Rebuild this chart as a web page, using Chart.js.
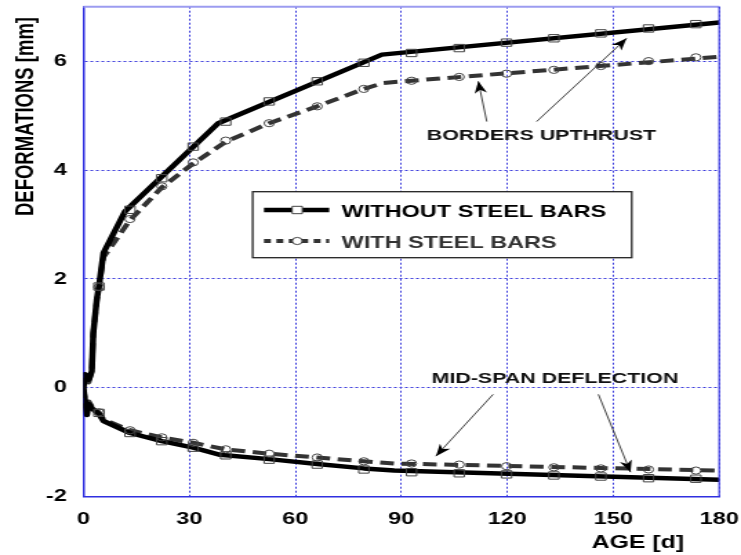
<!DOCTYPE html>
<html>
<head>
<meta charset="utf-8">
<script src="https://cdn.jsdelivr.net/npm/chart.js@4.4.1/dist/chart.umd.min.js"></script>
<style>
  html, body { margin: 0; padding: 0; background: #fff; }
  /* the original figure is stretched sideways, so the canvas is drawn narrow and widened by css */
  #chart { display: block; width: 741px !important; height: 555px !important; }
</style>
</head>
<body>
<canvas id="chart" width="537" height="555" style="width:741px;height:555px"></canvas>
<script>
// ages (days) where the markers sit
const markAge = [4.4, 13.2, 22.2, 31.1, 40.3, 52.6, 66.2, 79.4, 92.9, 106.4, 119.8, 133.2, 146.5, 160.0, 173.4];

// borders upthrust
const upNoSteelAge = [0, 0.5, 1.5, 2.4, 2.8, 3.8, 4.4, 5.7, 11.8, 38.2, 84.5, 180];
const upNoSteel    = [0, 0.25, 0.15, 0.3, 1.0, 1.62, 1.86, 2.48, 3.24, 4.86, 6.12, 6.71];
const upNoSteelMarks = [1.86, 3.27, 3.85, 4.43, 4.89, 5.26, 5.63, 5.97, 6.15, 6.24, 6.34, 6.42, 6.51, 6.60, 6.68];

const upSteelAge = [0, 0.5, 1.5, 2.4, 2.8, 3.8, 4.4, 5.7, 13.2, 22.2, 31.1, 40.3, 52.6, 66.2, 79.4, 85, 180];
const upSteel    = [0, 0.2, 0.1, 0.3, 1.0, 1.6, 1.85, 2.4, 3.08, 3.68, 4.12, 4.52, 4.86, 5.17, 5.49, 5.6, 6.08];
const upSteelMarks = [1.85, 3.10, 3.70, 4.14, 4.54, 4.86, 5.17, 5.49, 5.64, 5.71, 5.77, 5.84, 5.91, 6.00, 6.07];

// mid-span deflection
const lowNoSteelAge = [0, 1, 1.5, 2.5, 4.4, 5.7, 13.2, 22.2, 31.1, 38.7, 52.6, 66.2, 79.4, 88, 180];
const lowNoSteel    = [0, -0.5, -0.3, -0.38, -0.48, -0.61, -0.83, -0.98, -1.10, -1.23, -1.31, -1.40, -1.48, -1.52, -1.69];
const lowNoSteelMarks = [-0.46, -0.83, -0.98, -1.10, -1.24, -1.32, -1.41, -1.50, -1.55, -1.57, -1.59, -1.61, -1.63, -1.66, -1.67];

const lowSteelAge = [0, 1, 1.5, 2.5, 4.4, 5.7, 13.2, 22.2, 31.1, 40.3, 52.6, 66.2, 79.4, 88, 180];
const lowSteel    = [0, -0.45, -0.25, -0.35, -0.45, -0.58, -0.78, -0.91, -1.01, -1.13, -1.21, -1.28, -1.35, -1.39, -1.52];
const lowSteelMarks = [-0.45, -0.78, -0.91, -1.01, -1.13, -1.21, -1.28, -1.35, -1.39, -1.41, -1.44, -1.46, -1.48, -1.50, -1.52];

const xTicks = [0, 30, 60, 90, 120, 150, 180];
const yTicks = [-2, 0, 2, 4, 6];
const seriesNames = ['WITHOUT STEEL BARS', 'WITH STEEL BARS'];
const xTitle = 'AGE [d]';
const yTitle = 'DEFORMATIONS [mm]';

// annotation texts and arrows, in data units [age, mm]
const notes = [
  {text: 'BORDERS UPTHRUST', at: [129.7, 4.556],
   arrows: [[114.2, 4.89, 111.8, 5.63], [128.3, 4.89, 153.8, 6.42]]},
  {text: 'MID-SPAN DEFLECTION', at: [133.5, 0.092],
   arrows: [[116.0, -0.12, 99.8, -1.255], [145.8, -0.12, 154.9, -1.55]]}
];

const FONT = '"Liberation Sans", Arial, sans-serif';
const SOLID = '#000000';
const DASHED = '#333333';
const DASH = [10, 5.5];
const GRID = '#3b3bdc';

function pts(xs, ys) {
  return xs.map((x, i) => ({x: x, y: ys[i]}));
}

function lineSet(label, xs, ys, color, dash, width, order) {
  return {
    label: label, data: pts(xs, ys), showLine: true,
    borderColor: color, borderWidth: width, borderDash: dash,
    borderJoinStyle: 'round', pointRadius: 0, pointHoverRadius: 0,
    tension: 0, order: order
  };
}

function markSet(label, ys, style, radius, order) {
  return {
    label: label, data: pts(markAge, ys), showLine: false,
    pointStyle: style, pointRadius: radius, pointHoverRadius: radius,
    pointBorderColor: '#444', pointBorderWidth: 1,
    pointBackgroundColor: 'rgba(255,255,255,0)', order: order
  };
}

function drawArrow(ctx, x1, y1, x2, y2) {
  ctx.save();
  ctx.strokeStyle = '#111';
  ctx.fillStyle = '#000';
  ctx.lineWidth = 0.8;
  ctx.beginPath();
  ctx.moveTo(x1, y1);
  ctx.lineTo(x2, y2);
  ctx.stroke();
  let a = Math.atan2(y2 - y1, x2 - x1);
  ctx.translate(x2, y2);
  ctx.rotate(a);
  ctx.beginPath();
  ctx.moveTo(0, 0);
  ctx.lineTo(-12, -4.5);
  ctx.lineTo(-8.5, 0);
  ctx.lineTo(-12, 4.5);
  ctx.closePath();
  ctx.fill();
  ctx.restore();
}

const extras = {
  id: 'extras',
  afterDraw(chart) {
    const ctx = chart.ctx;
    const ca = chart.chartArea;
    const xs = chart.scales.x, ys = chart.scales.y;

    // top and right frame
    ctx.save();
    ctx.strokeStyle = '#9c9cf0';
    ctx.lineWidth = 2;
    ctx.beginPath();
    ctx.moveTo(ca.left, ca.top);
    ctx.lineTo(ca.right, ca.top);
    ctx.stroke();
    ctx.strokeStyle = '#3a3ae0';
    ctx.lineWidth = 1.2;
    ctx.beginPath();
    ctx.moveTo(ca.right, ca.top);
    ctx.lineTo(ca.right, ca.bottom);
    ctx.stroke();
    ctx.restore();

    // annotations
    ctx.save();
    ctx.fillStyle = '#111';
    ctx.font = 'bold 15.5px ' + FONT;
    ctx.textAlign = 'center';
    ctx.textBaseline = 'alphabetic';
    notes.forEach(n => {
      ctx.fillText(n.text, xs.getPixelForValue(n.at[0]), ys.getPixelForValue(n.at[1]));
      n.arrows.forEach(a => {
        drawArrow(ctx, xs.getPixelForValue(a[0]), ys.getPixelForValue(a[1]),
                  xs.getPixelForValue(a[2]), ys.getPixelForValue(a[3]));
      });
    });
    ctx.restore();

    // legend box
    const box = {left: 183.1, top: 191.7, right: 457.8, bottom: 257.7};
    ctx.save();
    ctx.fillStyle = '#fff';
    ctx.fillRect(box.left, box.top, box.right - box.left, box.bottom - box.top);
    ctx.strokeStyle = '#222';
    ctx.lineWidth = 1.3;
    ctx.strokeRect(box.left, box.top, box.right - box.left, box.bottom - box.top);

    const rows = [
      {y: 210, color: SOLID, dash: [], width: 4.5, style: 'rect', r: 5.2, text: seriesNames[0], tc: '#000'},
      {y: 241, color: DASHED, dash: [5, 4], width: 4, style: 'circle', r: 3.6, text: seriesNames[1], tc: '#333'}
    ];
    rows.forEach(r => {
      ctx.save();
      ctx.strokeStyle = r.color;
      ctx.lineWidth = r.width;
      ctx.setLineDash(r.dash);
      ctx.beginPath();
      ctx.moveTo(191.3, r.y);
      ctx.lineTo(238.6, r.y);
      ctx.stroke();
      ctx.restore();
      ctx.save();
      ctx.fillStyle = '#fff';
      ctx.strokeStyle = '#444';
      ctx.lineWidth = 1;
      Chart.helpers.drawPoint(ctx, {pointStyle: r.style, radius: r.r, borderWidth: 1}, 215.4, r.y);
      ctx.restore();
      ctx.fillStyle = r.tc;
      ctx.font = 'bold 17px ' + FONT;
      ctx.textAlign = 'left';
      ctx.textBaseline = 'alphabetic';
      ctx.fillText(r.text, 247.6, r.y + 7);
    });
    ctx.restore();

    // axis titles
    ctx.save();
    ctx.fillStyle = '#000';
    ctx.font = 'bold 18px ' + FONT;
    ctx.textAlign = 'center';
    ctx.textBaseline = 'alphabetic';
    ctx.fillText(xTitle, 462.3, 548);
    ctx.translate(24.1, 116.5);
    ctx.rotate(-Math.PI / 2);
    ctx.font = 'bold 18.5px ' + FONT;
    ctx.fillText(yTitle, 0, 0);
    ctx.restore();
  }
};

Chart.defaults.font.family = FONT;

new Chart(document.getElementById('chart'), {
  type: 'scatter',
  data: {
    datasets: [
      markSet(seriesNames[0], upNoSteelMarks, 'rect', 5.2, 0),
      markSet(seriesNames[0], lowNoSteelMarks, 'rect', 5.2, 0),
      markSet(seriesNames[1], upSteelMarks, 'circle', 3.6, 1),
      markSet(seriesNames[1], lowSteelMarks, 'circle', 3.6, 1),
      lineSet(seriesNames[0], upNoSteelAge, upNoSteel, SOLID, [], 4.5, 2),
      lineSet(seriesNames[0], lowNoSteelAge, lowNoSteel, SOLID, [], 4.5, 2),
      lineSet(seriesNames[1], upSteelAge, upSteel, DASHED, DASH, 4, 3),
      lineSet(seriesNames[1], lowSteelAge, lowSteel, DASHED, DASH, 4, 3)
    ]
  },
  options: {
    responsive: false,
    animation: false,
    layout: {padding: {top: 6.7, right: 15.8, left: 0, bottom: 0}},
    plugins: {legend: {display: false}, tooltip: {enabled: false}},
    scales: {
      x: {
        type: 'linear', min: 0, max: 180,
        afterBuildTicks: s => { s.ticks = xTicks.map(v => ({value: v})); },
        afterFit: s => { s.height = 58.3; s.paddingLeft = 0; s.paddingRight = 0; },
        ticks: {color: '#000', padding: 12, font: {size: 17, weight: 'bold'}},
        grid: {color: GRID, lineWidth: 1, drawTicks: false},
        border: {display: true, color: '#3030e0', width: 1.5, dash: [2, 2]}
      },
      y: {
        type: 'linear', min: -2, max: 7,
        afterBuildTicks: s => { s.ticks = yTicks.map(v => ({value: v})); },
        afterFit: s => { s.width = 60.4; s.paddingTop = 0; s.paddingBottom = 0; },
        ticks: {color: '#000', padding: 12, font: {size: 17, weight: 'bold'}},
        grid: {color: GRID, lineWidth: 1, drawTicks: false},
        border: {display: true, color: '#3030e0', width: 1.5, dash: [2, 2]}
      }
    }
  },
  plugins: [extras]
});
</script>
</body>
</html>
